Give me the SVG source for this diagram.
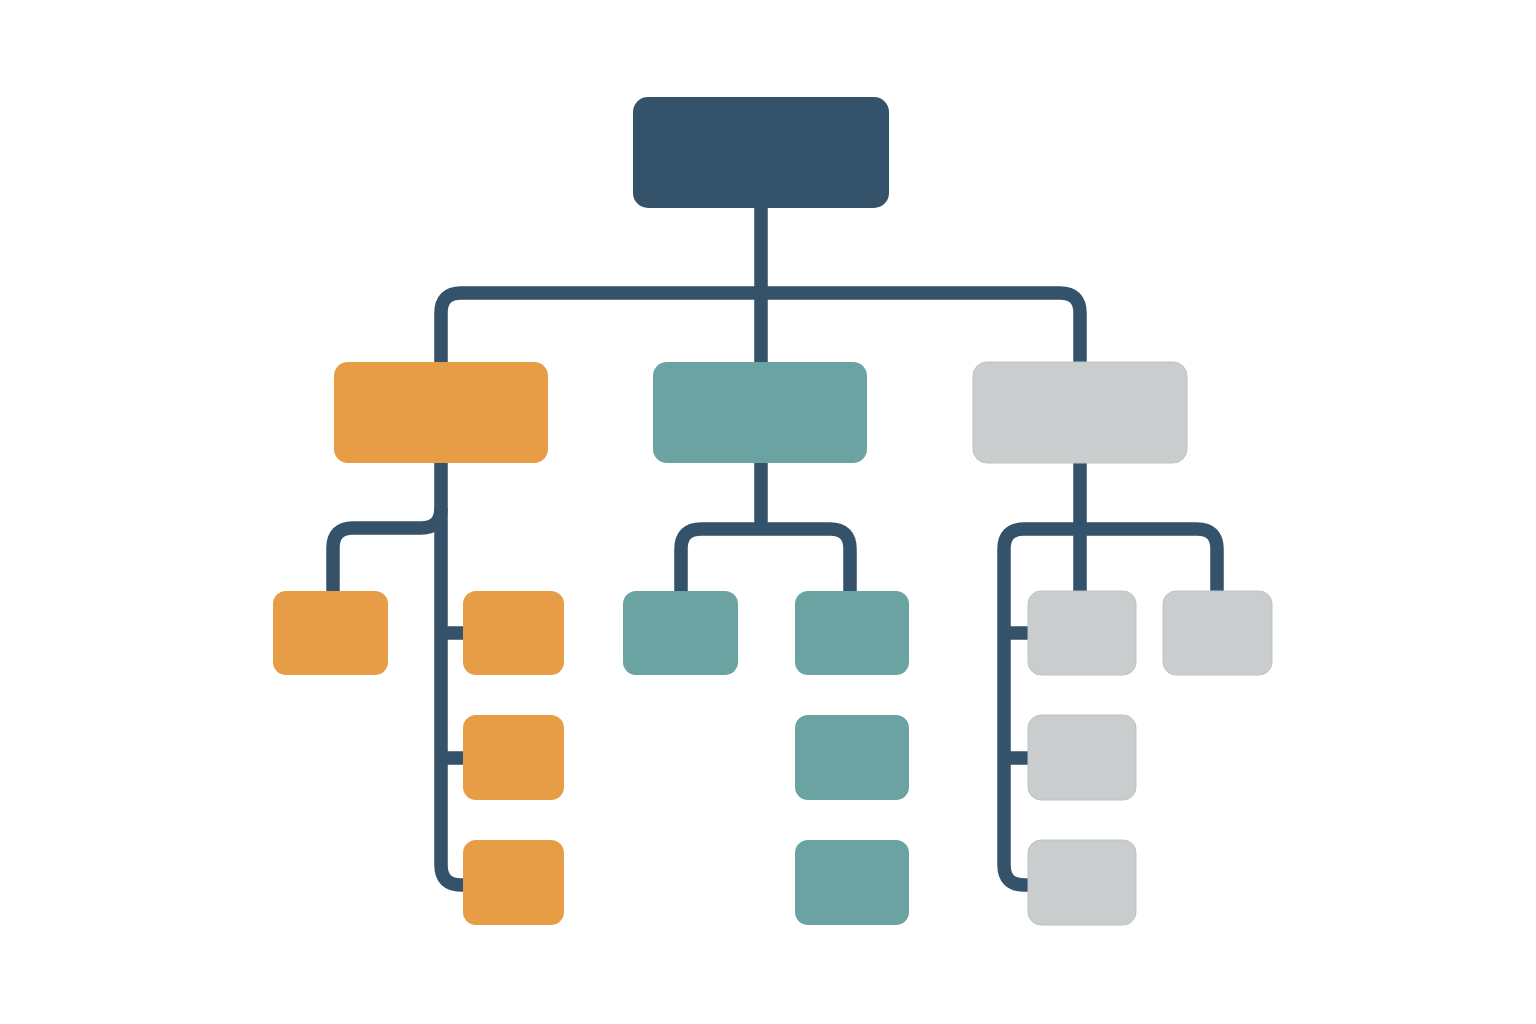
<svg xmlns="http://www.w3.org/2000/svg" width="1536" height="1024" viewBox="0 0 1536 1024">
<style>
.c{fill:none;stroke:#34526a;stroke-width:13.5;stroke-linejoin:round}
.root{fill:#34526a}
.o{fill:#e69d45}
.t{fill:#6aa3a2}
.g{fill:#c9cdce;stroke:#bfc3c4;stroke-width:1}
</style>
<rect width="1536" height="1024" fill="#ffffff"/>
<g id="connectors">
<path class="c" d="M761 208 V362"/>
<path class="c" d="M441 362 V313 Q441 293 461 293 H1060 Q1080 293 1080 313 V362"/>
<path class="c" d="M441 463 V865 Q441 885 461 885 H464"/>
<path class="c" d="M441 508 Q441 528 421 528 H353 Q333 528 333 548 V591"/>
<path class="c" d="M441 633 H464"/>
<path class="c" d="M441 758 H464"/>
<path class="c" d="M761 463 V529"/>
<path class="c" d="M681 591 V549 Q681 529 701 529 H830 Q850 529 850 549 V591"/>
<path class="c" d="M1080 463 V591"/>
<path class="c" d="M1029 885 H1024 Q1004 885 1004 865 V549 Q1004 529 1024 529 H1197 Q1217 529 1217 549 V591"/>
<path class="c" d="M1004 633 H1029"/>
<path class="c" d="M1004 758 H1029"/>
</g>
<g id="root"><rect class="root" x="633" y="97" width="256" height="111" rx="15"/></g>
<g id="left"><rect class="o" x="334" y="362" width="214" height="101" rx="14"/></g>
<g id="middle"><rect class="t" x="653" y="362" width="214" height="101" rx="14"/></g>
<g id="right"><rect class="g" x="973" y="362" width="214" height="101" rx="14"/></g>
<g id="left-a"><rect class="o" x="273" y="591" width="115" height="84" rx="13"/></g>
<g id="left-b"><rect class="o" x="463" y="591" width="101" height="84" rx="13"/></g>
<g id="left-c"><rect class="o" x="463" y="715" width="101" height="85" rx="13"/></g>
<g id="left-d"><rect class="o" x="463" y="840" width="101" height="85" rx="13"/></g>
<g id="mid-a"><rect class="t" x="623" y="591" width="115" height="84" rx="13"/></g>
<g id="mid-b"><rect class="t" x="795" y="591" width="114" height="84" rx="13"/></g>
<g id="mid-c"><rect class="t" x="795" y="715" width="114" height="85" rx="13"/></g>
<g id="mid-d"><rect class="t" x="795" y="840" width="114" height="85" rx="13"/></g>
<g id="right-a"><rect class="g" x="1028" y="591" width="108" height="84" rx="13"/></g>
<g id="right-b"><rect class="g" x="1163" y="591" width="109" height="84" rx="13"/></g>
<g id="right-c"><rect class="g" x="1028" y="715" width="108" height="85" rx="13"/></g>
<g id="right-d"><rect class="g" x="1028" y="840" width="108" height="85" rx="13"/></g>
</svg>
